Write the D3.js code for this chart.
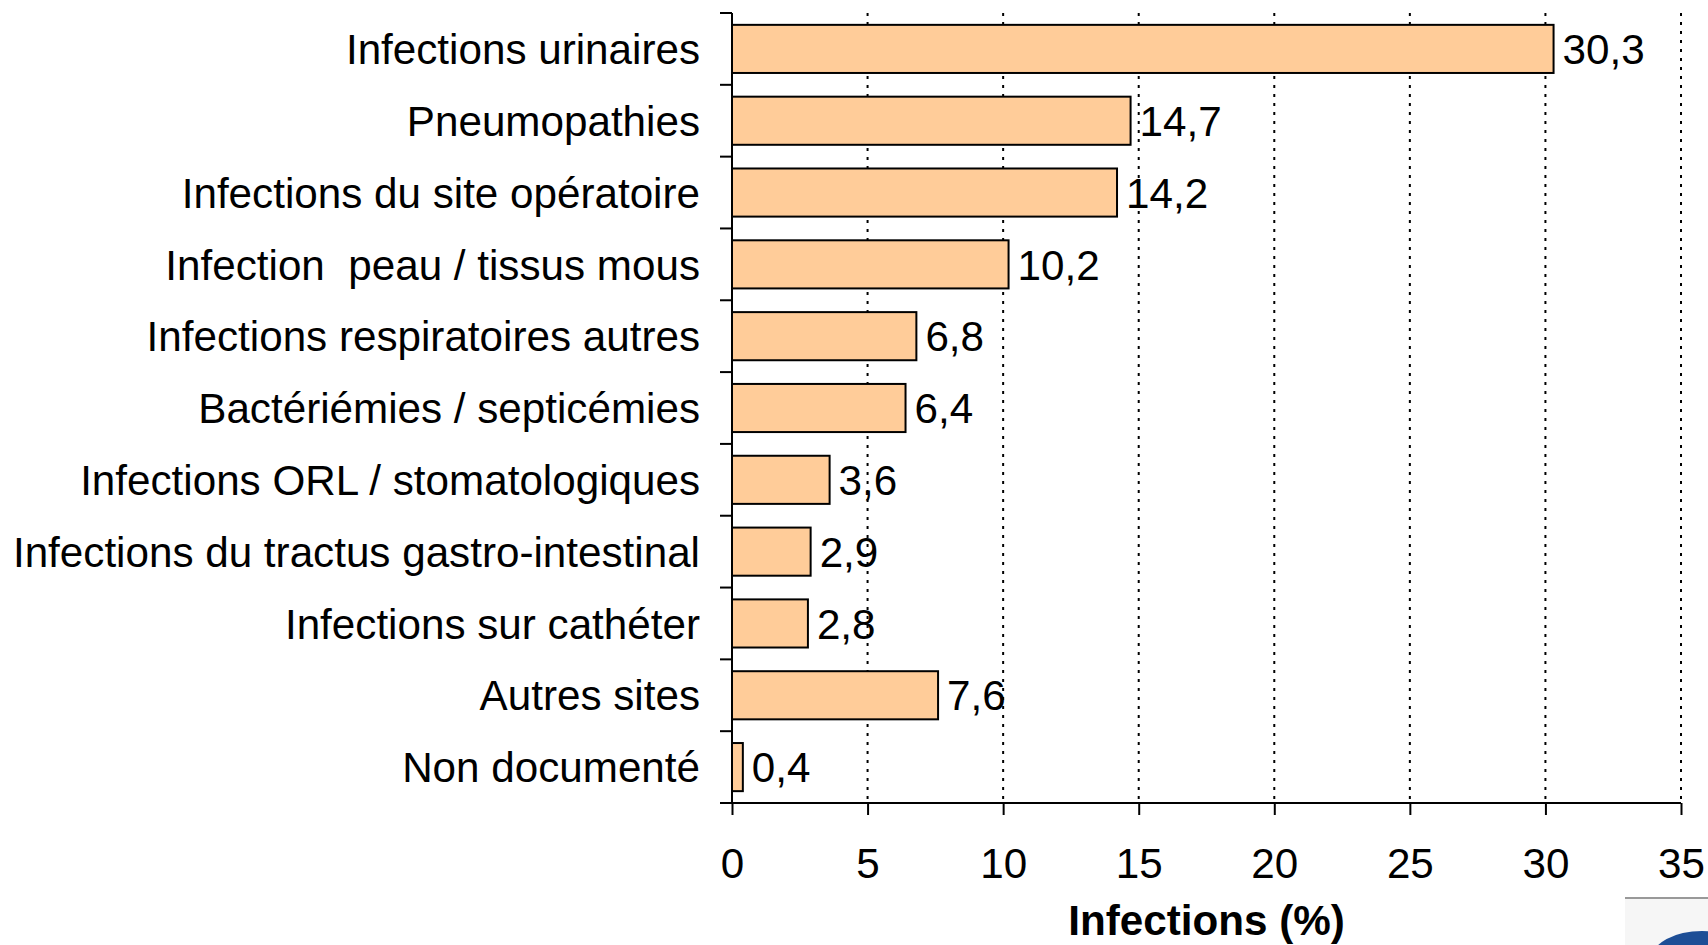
<!DOCTYPE html>
<meta charset="utf-8">
<style>
body { margin: 0; background: #fff; }
text { font-family: "Liberation Sans", Arial, sans-serif; fill: #000; }
.grid line { stroke: #000; stroke-width: 2; stroke-dasharray: 3,6; }
.bar { fill: #ffcc99; stroke: #000; stroke-width: 2; }
</style>
<svg width="1708" height="945"></svg>
<script src="https://d3js.org/d3.v7.min.js"></script>
<script>

// donnees
var categories = [
  "Infections urinaires",
  "Pneumopathies",
  "Infections du site opératoire",
  "Infection  peau / tissus mous",
  "Infections respiratoires autres",
  "Bactériémies / septicémies",
  "Infections ORL / stomatologiques",
  "Infections du tractus gastro-intestinal",
  "Infections sur cathéter",
  "Autres sites",
  "Non documenté"
];
var values = [30.3, 14.7, 14.2, 10.2, 6.8, 6.4, 3.6, 2.9, 2.8, 7.6, 0.4];
var xTicks = [0, 5, 10, 15, 20, 25, 30, 35];
var xTitle = "Infections (%)";

var svg = d3.select("svg");
var mLeft = 732, mRight = 1681, mTop = 13, mBottom = 803;
var fs = 42.2;

var x = d3.scaleLinear().domain([0, 35]).range([mLeft, mRight]);
var y = d3.scaleBand().domain(categories).range([mTop, mBottom])
    .paddingInner(0.33).paddingOuter(0.165);

var fr = d3.formatLocale({decimal: ",", thousands: " ", grouping: [3], currency: ["", " €"]});
var fmt = fr.format(".1f");

var data = categories.map(function(c, i) { return {name: c, value: values[i]}; });

// grille pointillee
svg.append("g").attr("class", "grid")
  .selectAll("line")
  .data(xTicks.filter(function(t) { return t > 0; }))
  .enter().append("line")
    .attr("x1", function(d) { return x(d); })
    .attr("x2", function(d) { return x(d); })
    .attr("y1", mTop)
    .attr("y2", mBottom);

// barres
svg.append("g")
  .selectAll("rect")
  .data(data)
  .enter().append("rect")
    .attr("class", "bar")
    .attr("x", x(0))
    .attr("y", function(d) { return y(d.name); })
    .attr("width", function(d) { return x(d.value) - x(0); })
    .attr("height", y.bandwidth());

// valeurs
svg.append("g")
  .selectAll("text")
  .data(data)
  .enter().append("text")
    .attr("x", function(d) { return x(d.value) + 9; })
    .attr("y", function(d) { return y(d.name) + y.bandwidth() / 2; })
    .attr("dy", "0.36em")
    .style("font-size", fs + "px")
    .text(function(d) { return fmt(d.value); });

// axe x
var xAxis = svg.append("g")
    .attr("transform", "translate(0," + mBottom + ")")
    .call(d3.axisBottom(x).tickValues(xTicks).tickSize(12).tickPadding(33).tickSizeOuter(0));
xAxis.select(".domain").attr("stroke-width", 2).attr("d", "M" + (mLeft - 12) + ",0H" + mRight);
xAxis.selectAll(".tick line").attr("stroke-width", 2);
xAxis.selectAll(".tick text")
    .style("font-size", fs + "px")
    .style("font-family", "'Liberation Sans', Arial, sans-serif");

// axe y
var step = y.step();
var bounds = categories.map(function(c) { return y(c) - (step - y.bandwidth()) / 2; });
bounds.push(mBottom);
svg.append("line")
    .attr("x1", mLeft).attr("x2", mLeft)
    .attr("y1", mTop).attr("y2", mBottom)
    .attr("stroke", "#000").attr("stroke-width", 2);
svg.append("g").selectAll("line")
  .data(bounds)
  .enter().append("line")
    .attr("x1", mLeft - 12).attr("x2", mLeft)
    .attr("y1", function(d) { return d; })
    .attr("y2", function(d) { return d; })
    .attr("stroke", "#000").attr("stroke-width", 2);

svg.append("g").selectAll("text")
  .data(categories)
  .enter().append("text")
    .attr("x", 700)
    .attr("y", function(d) { return y(d) + y.bandwidth() / 2; })
    .attr("dy", "0.36em")
    .attr("text-anchor", "end")
    .style("font-size", fs + "px")
    .style("white-space", "pre")
    .text(function(d) { return d; });

// titre axe x
svg.append("text")
    .attr("x", (mLeft + mRight) / 2)
    .attr("y", 935)
    .attr("text-anchor", "middle")
    .style("font-size", fs + "px")
    .style("font-weight", "bold")
    .text(xTitle);

// bout de logo en bas a droite
svg.append("rect")
    .attr("x", 1625).attr("y", 899)
    .attr("width", 83).attr("height", 46)
    .attr("fill", "#f6f6f6");
svg.append("line")
    .attr("x1", 1625).attr("x2", 1708)
    .attr("y1", 898).attr("y2", 898)
    .attr("stroke", "#999").attr("stroke-width", 2);
svg.append("ellipse")
    .attr("cx", 1702).attr("cy", 958)
    .attr("rx", 50).attr("ry", 27)
    .attr("fill", "#1d4e96");

</script>
